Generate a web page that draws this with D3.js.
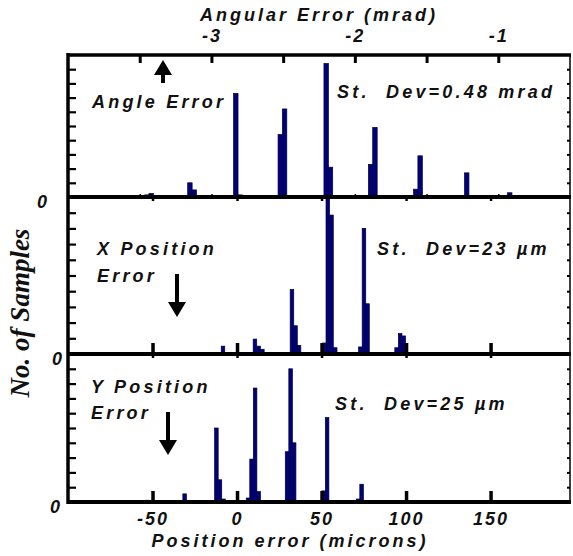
<!DOCTYPE html>
<html>
<head>
<meta charset="utf-8">
<script src="https://cdn.jsdelivr.net/npm/d3@7"></script>
<style>
  body { margin: 0; background: #fff; }
  text { font-family: "Liberation Sans", Arial, sans-serif; font-weight: bold; font-style: italic; fill: #111; }
</style>
</head>
<body>
<svg id="chart" width="573" height="556"></svg>
<script>
// angle error histogram (mrad) -- heights in tick units (0-10)
const angleErr = [-3.76, -3.45, -3.42, -3.15, -3.12, -2.83, -2.80, -2.52, -2.49, -2.20, -2.17, -1.89, -1.86, -1.575, -1.545, -1.25, -1.22, -0.92, -0.68, -0.65];
const angleCount = [0.1, 0.15, 0.25, 1.0, 0.5, 7.3, 0.15, 4.4, 6.2, 9.4, 2.1, 2.3, 4.9, 0.55, 2.9, 0.07, 1.7, 0.3, 0.07, 0.07];

// x position error (microns)
const xPosErr = [-30, -8.3, 10.6, 12.8, 15.0, 32.5, 34.6, 36.7, 51.5, 53.7, 55.9, 58.1, 73.0, 75.1, 77.2, 79.3, 94.4, 96.5, 98.6, 117];
const xPosCount = [0.07, 0.5, 0.95, 0.5, 0.3, 4.1, 1.8, 0.55, 0.7, 9.9, 8.85, 0.4, 0.45, 8.0, 3.2, 0.07, 0.4, 1.3, 1.15, 0.07];

// y position error (microns)
const yPosErr = [-74, -72, -53, -33, -31, -12.2, -10.1, -8.0, -5.9, 6.5, 8.6, 10.7, 12.8, 27.5, 29.6, 31.7, 33.8, 51.2, 53.3, 71.6, 73.7, 95];
const yPosCount = [0.1, 0.1, 0.12, 0.07, 0.55, 5.0, 1.5, 0.2, 0.07, 0.27, 2.9, 7.7, 0.7, 0.07, 3.4, 9.0, 4.0, 0.75, 5.7, 0.2, 1.2, 0.07];

const posTicks = [-50, 0, 50, 100, 150];
const angleTicks = [-3.5, -3, -2.5, -2, -1.5, -1];

const left = 68, right = 570;
const svg = d3.select("#chart");

const xPos = d3.scaleLinear().domain([-100, 197]).range([left, right]);
const xAng = d3.scaleLinear().domain([-4.0, -0.5]).range([left, right]);

const panels = [
  { top: 55, bottom: 197, x: xAng, bw: 0.031, bins: angleErr, counts: angleCount, pad: 21 },
  { top: 197, bottom: 354, x: xPos, bw: 2.1, bins: xPosErr, counts: xPosCount, pad: 6 },
  { top: 354, bottom: 502, x: xPos, bw: 2.1, bins: yPosErr, counts: yPosCount, pad: 8 },
];

function styleAxis(g, w) {
  g.select(".domain").remove();
  g.selectAll(".tick line").attr("stroke", "#000").attr("stroke-width", w);
  g.selectAll(".tick text").attr("font-size", 18).attr("letter-spacing", 2)
    .attr("fill", "#111").attr("font-family", null);
}

panels.forEach((p) => {
  const y = d3.scaleLinear().domain([0, 10]).range([p.bottom, p.top]);
  const data = p.bins.map((b, i) => ({ b, c: p.counts[i] }));

  svg.append("g").selectAll("rect").data(data).join("rect")
    .attr("x", (d) => p.x(d.b - p.bw / 2))
    .attr("width", (d) => p.x(d.b + p.bw / 2) - p.x(d.b - p.bw / 2))
    .attr("y", (d) => y(d.c))
    .attr("height", (d) => y(0) - y(d.c))
    .attr("fill", "#00007c")
    .attr("stroke", "#000030")
    .attr("stroke-width", 0.7);

  svg.append("g")
    .attr("transform", `translate(${left},0)`)
    .call(d3.axisLeft(y).tickValues(d3.range(0, 10)).tickSizeInner(-8).tickSizeOuter(0)
      .tickPadding(p.pad).tickFormat((d) => (d === 0 ? "0" : "")))
    .call((g) => styleAxis(g, 2.2))
    .call((g) => g.selectAll(".tick text").attr("dy", "0.6em").attr("letter-spacing", 0));

  svg.append("g")
    .attr("transform", `translate(${right},0)`)
    .call(d3.axisRight(y).tickValues(d3.range(1, 10)).tickSizeInner(-3).tickSizeOuter(0).tickFormat(""))
    .call((g) => styleAxis(g, 2));
});

// top angular axis
svg.append("g")
  .attr("transform", "translate(0,55)")
  .call(d3.axisTop(xAng).tickValues(angleTicks).tickSizeInner(-8).tickSizeOuter(0)
    .tickPadding(13).tickFormat((d) => (Number.isInteger(d) ? String(d) : "")))
  .call((g) => styleAxis(g, 3));

svg.append("g")
  .attr("transform", "translate(0,197)")
  .call(d3.axisBottom(xAng).tickValues(angleTicks).tickSizeInner(-3).tickSizeOuter(0).tickFormat(""))
  .call((g) => styleAxis(g, 1.5));

// position axes on panels 2 and 3
[197, 354].forEach((yy) => {
  svg.append("g")
    .attr("transform", `translate(0,${yy})`)
    .call(d3.axisTop(xPos).tickValues(posTicks).tickSizeInner(-4).tickSizeOuter(0).tickFormat(""))
    .call((g) => styleAxis(g, 2.5));
});
svg.append("g")
  .attr("transform", "translate(0,354)")
  .call(d3.axisBottom(xPos).tickValues(posTicks).tickSizeInner(-11).tickSizeOuter(0).tickFormat(""))
  .call((g) => styleAxis(g, 3.5));
svg.append("g")
  .attr("transform", "translate(0,502)")
  .call(d3.axisBottom(xPos).tickValues(posTicks).tickSizeInner(-11).tickSizeOuter(0).tickPadding(10)
    .tickFormat((d) => String(d)))
  .call((g) => styleAxis(g, 3.5));

// frame
const frame = svg.append("g").attr("stroke", "#000").attr("fill", "none");
frame.append("line").attr("x1", left).attr("x2", left).attr("y1", 53).attr("y2", 504).attr("stroke-width", 3.5);
frame.append("line").attr("x1", right).attr("x2", right).attr("y1", 55).attr("y2", 502).attr("stroke-width", 1.5);
[[55, 3.5], [197, 4], [354, 4], [502, 4]].forEach(([yy, w]) => {
  frame.append("line").attr("x1", left).attr("x2", right + 1).attr("y1", yy).attr("y2", yy).attr("stroke-width", w);
});

// titles
svg.append("text").attr("x", 319).attr("y", 21).attr("text-anchor", "middle")
  .attr("font-size", 18).attr("letter-spacing", 3).text("Angular Error (mrad)");
svg.append("text").attr("x", 290).attr("y", 547).attr("text-anchor", "middle")
  .attr("font-size", 18).attr("letter-spacing", 3).text("Position error (microns)");
svg.append("text")
  .attr("transform", "translate(29,313) rotate(-90)")
  .attr("text-anchor", "middle")
  .style("font-family", "'Liberation Serif', 'Times New Roman', serif")
  .attr("font-size", 27)
  .text("No. of Samples");

// annotations
const notes = [
  { x: 92, y: 108, t: "Angle Error" },
  { x: 337, y: 98, t: "St.\u00a0 Dev=0.48 mrad" },
  { x: 97, y: 255, t: "X Position" },
  { x: 97, y: 282, t: "Error" },
  { x: 377, y: 255, t: "St.\u00a0 Dev=23 \u00b5m" },
  { x: 91, y: 393, t: "Y Position" },
  { x: 91, y: 419, t: "Error" },
  { x: 335, y: 410, t: "St.\u00a0 Dev=25 \u00b5m" },
];
svg.append("g").selectAll("text").data(notes).join("text")
  .attr("x", (d) => d.x).attr("y", (d) => d.y)
  .attr("font-size", 18).attr("letter-spacing", 3.2)
  .text((d) => d.t);

// arrows
function arrow(x, yTail, yTip) {
  const dir = yTip > yTail ? 1 : -1;
  const headBase = yTip - dir * 15;
  const path = d3.path();
  path.moveTo(x - 2, yTail);
  path.lineTo(x + 2, yTail);
  path.lineTo(x + 2, headBase);
  path.lineTo(x + 9, headBase);
  path.lineTo(x, yTip);
  path.lineTo(x - 9, headBase);
  path.lineTo(x - 2, headBase);
  path.closePath();
  svg.append("path").attr("d", path.toString()).attr("fill", "#000");
}
arrow(163, 83, 60);
arrow(177, 274, 317);
arrow(168, 412, 455);
</script>
</body>
</html>
